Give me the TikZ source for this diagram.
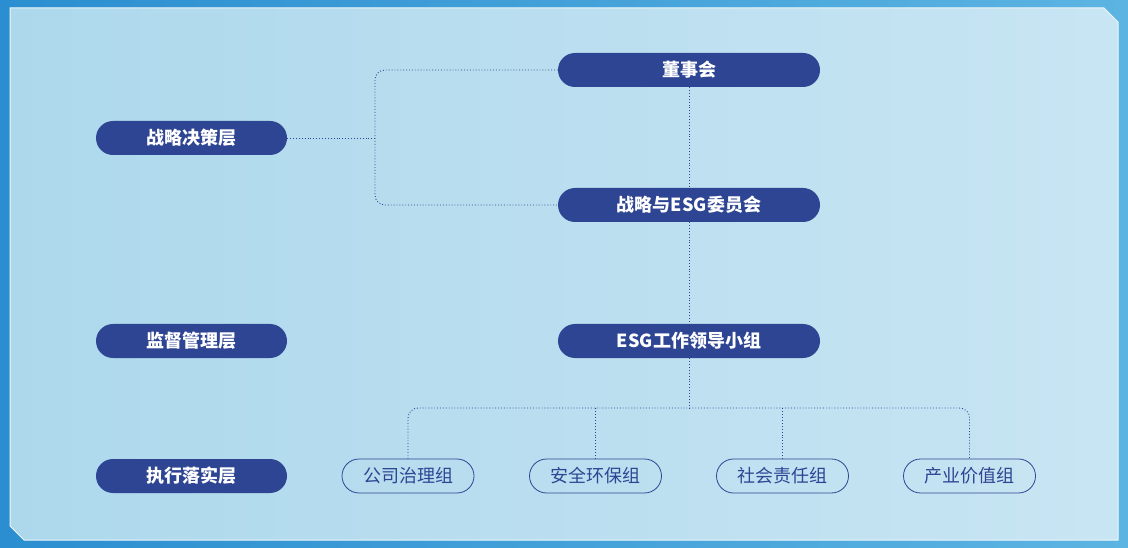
\documentclass[tikz,border=0pt]{standalone}
\usepackage{fontspec}
\setmainfont{Noto Sans CJK SC}
\usetikzlibrary{shadings}
\definecolor{navy}{HTML}{2E4593}
\definecolor{edgeA}{HTML}{2B8ED0}
\definecolor{edgeB}{HTML}{5CB4E2}
\definecolor{panA}{HTML}{ADD8EC}
\definecolor{panB}{HTML}{C8E5F3}
\begin{document}
\begin{tikzpicture}[x=1pt,y=-1pt,
 dark/.style={rounded corners=17pt,fill=navy,text=white,minimum height=34pt,inner sep=0pt,font=\fontsize{18}{21}\selectfont\bfseries},
 lft/.style={dark,minimum width=191pt},
 rgt/.style={dark,minimum width=262pt},
 grp/.style={rounded corners=17pt,draw=navy,line width=0.8pt,text=navy,minimum height=34pt,minimum width=132pt,inner sep=0pt,font=\fontsize{18}{21}\selectfont},
 dl/.style={navy,line width=0.9pt,dotted,rounded corners=10pt}]
\useasboundingbox (0,0) rectangle (1128,548);
\shade[left color=edgeA,right color=edgeB] (0,0) rectangle (1128,548);
\shade[left color=panA,right color=panB,draw=white!70!panB,line width=1pt]
 (10,8) -- (1104,8) -- (1118,22) -- (1118,540) -- (24,540) -- (10,526) -- cycle;
\node[lft] (a) at (191.5,138) {战略决策层};
\node[lft] (b) at (191.5,341) {监督管理层};
\node[lft] (c) at (191.5,476) {执行落实层};
\node[rgt] (d) at (689,70) {董事会};
\node[rgt] (e) at (689,205) {战略与ESG委员会};
\node[rgt] (f) at (689,341) {ESG工作领导小组};
\node[grp] (g1) at (408,476) {公司治理组};
\node[grp] (g2) at (595.5,476) {安全环保组};
\node[grp] (g3) at (782.5,476) {社会责任组};
\node[grp] (g4) at (969.5,476) {产业价值组};
\coordinate (j) at (375,138);
\coordinate (k) at (689,408);
\draw[dl] (a.east) -- (j);
\draw[dl] (d.west) -- (375,70) -- (375,205) -- (e.west);
\draw[dl] (d.south) -- (e.north);
\draw[dl] (e.south) -- (f.north);
\draw[dl] (f.south) -- (k);
\draw[dl] (g1.north) -- (g1.north |- k) -- (g4.north |- k) -- (g4.north);
\draw[dl] (g2.north) -- (g2.north |- k);
\draw[dl] (g3.north) -- (g3.north |- k);
\end{tikzpicture}
\end{document}
